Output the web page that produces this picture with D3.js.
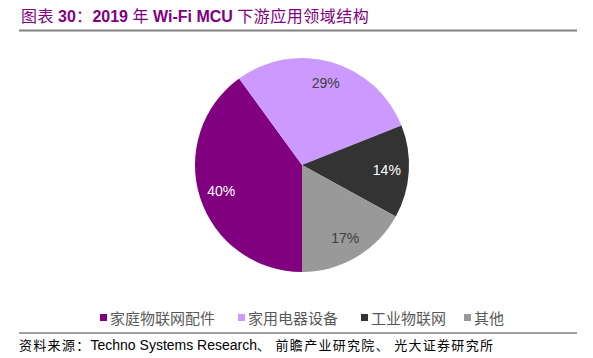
<!DOCTYPE html>
<html>
<head>
<meta charset="utf-8">
<script src="https://cdn.jsdelivr.net/npm/d3@7"></script>
<style>
  body { margin: 0; background: #fff; }
  text { font-family: "Liberation Sans", Arial, "Noto Sans CJK SC", sans-serif; }
</style>
</head>
<body>
<div id="chart"></div>
<script>
var categories = ['家庭物联网配件', '家用电器设备', '工业物联网', '其他'];
var shares = [40, 29, 14, 17];
var colors = ['#800080', '#CC99FF', '#333333', '#999999'];
var labelColors = ['#ffffff', '#404040', '#ffffff', '#404040'];

var width = 593, height = 358;
var cx = 302, cy = 165, radius = 107;

var cjk = '"Noto Sans CJK SC", sans-serif';
var latin = '"Liberation Sans", Arial, sans-serif';

var svg = d3.select('#chart').append('svg')
    .attr('width', width)
    .attr('height', height);

// Title, mixed CJK (normal) and Latin (bold)
var titleParts = [
    { t: '图表 ', cjk: true },
    { t: '30', cjk: false },
    { t: '：', cjk: true },
    { t: '2019 ', cjk: false },
    { t: '年 ', cjk: true },
    { t: 'Wi-Fi MCU ', cjk: false },
    { t: '下游应用领域结构', cjk: true }
];
var title = svg.append('text')
    .attr('x', 21).attr('y', 22)
    .attr('fill', '#800080')
    .style('font-size', '16px');
titleParts.forEach(function(p){
    title.append('tspan')
        .style('font-family', p.cjk ? cjk : latin)
        .style('font-weight', p.cjk ? 'normal' : 'bold')
        .style('letter-spacing', p.cjk ? '0.5px' : '0px')
        .text(p.t);
});

svg.append('line')
    .attr('x1', 19).attr('x2', 577)
    .attr('y1', 30.5).attr('y2', 30.5)
    .attr('stroke', '#808080').attr('stroke-width', 2);

// Pie
var pie = d3.pie().sort(null)
    .startAngle(Math.PI).endAngle(3 * Math.PI)
    .value(function(d){ return d; });
var arcs = pie(shares);

var arc = d3.arc().innerRadius(0).outerRadius(radius);
var labelArc = d3.arc().innerRadius(85).outerRadius(85);

var g = svg.append('g').attr('transform', 'translate(' + cx + ',' + cy + ')');

g.selectAll('path.slice')
    .data(arcs)
    .enter()
    .append('path')
    .attr('class', 'slice')
    .attr('d', arc)
    .attr('fill', function(d, i){ return colors[i]; });

g.selectAll('text.lbl')
    .data(arcs)
    .enter()
    .append('text')
    .attr('class', 'lbl')
    .attr('transform', function(d){ return 'translate(' + labelArc.centroid(d) + ')'; })
    .attr('text-anchor', 'middle')
    .attr('dy', '0.35em')
    .attr('fill', function(d, i){ return labelColors[i]; })
    .style('font-size', '14px')
    .text(function(d){ return d.data + '%'; });

// Legend
var legendX = [100, 238, 361, 464];
var legend = svg.append('g');
categories.forEach(function(c, i){
    legend.append('rect')
        .attr('x', legendX[i]).attr('y', 314)
        .attr('width', 7).attr('height', 7)
        .attr('fill', colors[i]);
    legend.append('text')
        .attr('x', legendX[i] + 10).attr('y', 323.5)
        .attr('fill', '#595959')
        .style('font-size', '15px')
        .style('font-family', cjk)
        .text(c);
});

svg.append('line')
    .attr('x1', 19).attr('x2', 577)
    .attr('y1', 333).attr('y2', 333)
    .attr('stroke', '#808080').attr('stroke-width', 1.5);

// Source
var src = svg.append('text')
    .attr('x', 19).attr('y', 350)
    .attr('fill', '#000')
    .style('font-size', '14px');
src.append('tspan').style('font-family', cjk).style('font-size', '13px').style('letter-spacing', '1.3px').text('资料来源：');
src.append('tspan').style('font-family', latin).text('Techno Systems Research');
src.append('tspan').style('font-family', cjk).style('font-size', '13px').style('letter-spacing', '1.3px').text('、 前瞻产业研究院、 光大证券研究所');
</script>
</body>
</html>
